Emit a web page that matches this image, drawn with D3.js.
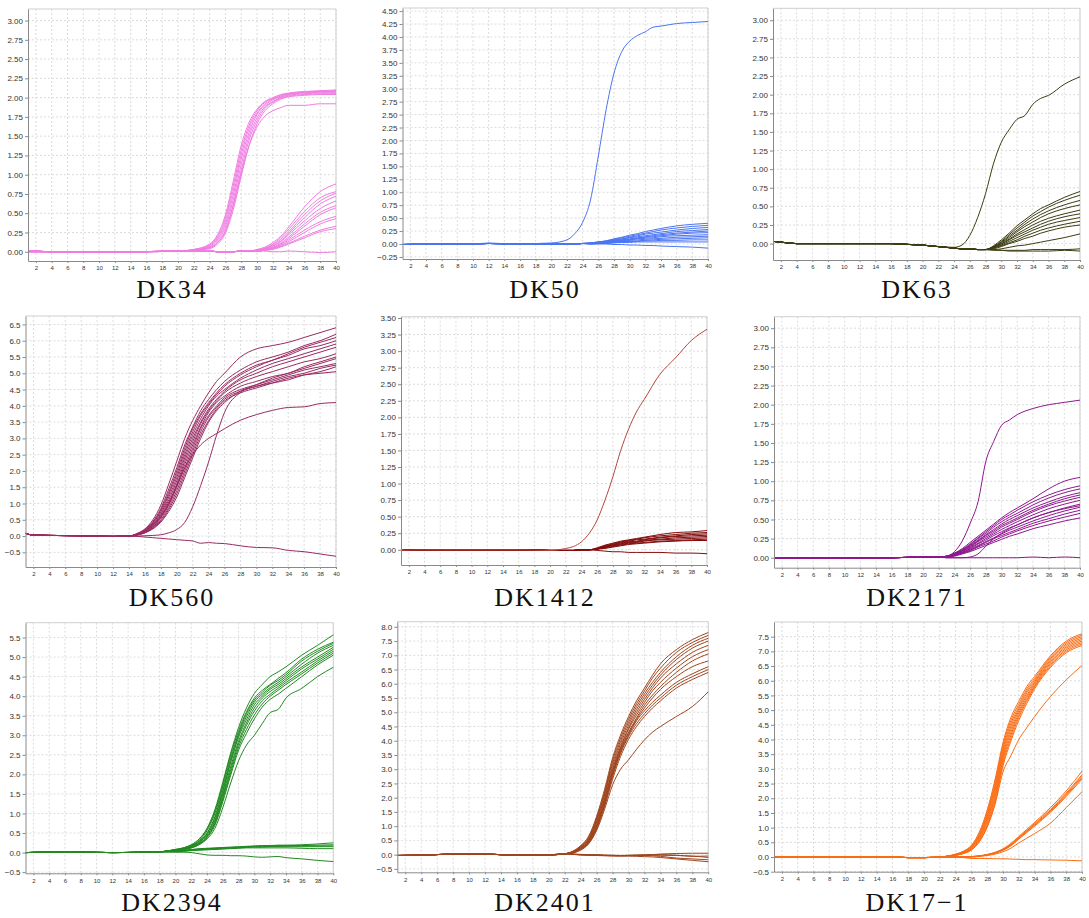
<!DOCTYPE html>
<html>
<head>
<meta charset="utf-8">
<script src="https://cdn.jsdelivr.net/npm/d3@7"></script>
<style>
  body { margin: 0; background: #fff; }
  .tick text { fill: #333; font-family: "Liberation Sans", Arial, sans-serif; }
  .domain { stroke: #8a8a8a; }
  .tick line { stroke: #8a8a8a; }
</style>
</head>
<body>
<script>
// x axis ticks shared by all panels
const cycleTicks = [2,4,6,8,10,12,14,16,18,20,22,24,26,28,30,32,34,36,38,40];

// ---- DK34 ----
const dk34Cycles = [1,5,10,15,20,22,24,25,26,27,28,29,30,31,32,33,34,36,38,40];
const dk34Ticks = [0,0.25,0.5,0.75,1,1.25,1.5,1.75,2,2.25,2.5,2.75,3];
const dk34Base = [0.01,0,0,0,0.01,0.01,0.01,0,0,0,0.01];
const dk34Curves = [
  [0.01,0,0,0,0.01,0.03,0.10,0.22,0.48,0.92,1.38,1.68,1.85,1.95,2.0,2.04,2.06,2.08,2.09,2.10],
  [0.01,0,0,0,0.01,0.03,0.09,0.20,0.44,0.86,1.32,1.64,1.83,1.94,1.99,2.03,2.05,2.07,2.08,2.09],
  [0,0,0,0,0.01,0.02,0.08,0.18,0.40,0.80,1.26,1.60,1.80,1.92,1.98,2.02,2.05,2.07,2.08,2.08],
  [0,0,0,0,0.01,0.02,0.07,0.16,0.36,0.74,1.20,1.55,1.78,1.90,1.97,2.01,2.04,2.06,2.07,2.07],
  [0,0,0,0,0.01,0.02,0.06,0.14,0.32,0.68,1.13,1.50,1.74,1.88,1.95,2.00,2.03,2.05,2.06,2.06],
  [0,0,0,0,0.01,0.02,0.05,0.12,0.28,0.62,1.06,1.45,1.70,1.86,1.94,1.99,2.02,2.04,2.05,2.05],
  [0,0,0,0,0.01,0.02,0.05,0.12,0.27,0.60,1.02,1.38,1.62,1.76,1.83,1.87,1.90,1.90,1.92,1.92],
  [0,0,0,0,0.01,0.02,0.04,0.10,0.24,0.55,0.98,1.38,1.66,1.83,1.92,1.98,2.01,2.03,2.04,2.04],
  [...dk34Base, 0.01,0.03,0.06,0.12,0.20,0.32,0.58,0.78,0.88],
  [...dk34Base, 0.01,0.02,0.05,0.10,0.18,0.29,0.52,0.70,0.78],
  [...dk34Base, 0.01,0.02,0.04,0.09,0.16,0.26,0.48,0.66,0.76],
  [...dk34Base, 0.01,0.02,0.04,0.08,0.14,0.24,0.44,0.62,0.72],
  [...dk34Base, 0.01,0.02,0.03,0.07,0.13,0.22,0.40,0.56,0.66],
  [...dk34Base, 0.01,0.01,0.03,0.06,0.11,0.19,0.36,0.51,0.60],
  [...dk34Base, 0.01,0.01,0.03,0.05,0.10,0.17,0.33,0.48,0.57],
  [...dk34Base, 0.01,0.01,0.02,0.05,0.09,0.15,0.28,0.39,0.46],
  [...dk34Base, 0.01,0.01,0.02,0.04,0.08,0.13,0.25,0.36,0.43],
  [...dk34Base, 0.01,0.01,0.02,0.04,0.07,0.11,0.20,0.28,0.33],
  [...dk34Base, 0.01,0.01,0.02,0.03,0.06,0.10,0.18,0.26,0.30],
  [...dk34Base, 0.01,0.01,0.01,0,0,0.01,0,-0.01,0]
];

// ---- DK50 ----
const dk50Cycles = [1,5,10,12,15,20,22,23,24,25,26,27,28,29,30,31,32,33,34,36,38,40];
const dk50Ticks = [-0.25,0,0.25,0.5,0.75,1,1.25,1.5,1.75,2,2.25,2.5,2.75,3,3.25,3.5,3.75,4,4.25,4.5];
const dk50Base = [-0.01,0,0,0.01,0,0,0,0,0.01];
const dk50Curves = [
  [-0.01,0,0,0.02,0,0.02,0.08,0.2,0.42,0.85,1.7,2.6,3.3,3.72,3.92,4.03,4.1,4.19,4.21,4.26,4.28,4.30],
  [...dk50Base, 0.02,0.04,0.06,0.10,0.13,0.17,0.20,0.24,0.27,0.30,0.35,0.38,0.40],
  [...dk50Base, 0.02,0.04,0.06,0.09,0.12,0.15,0.18,0.21,0.24,0.27,0.31,0.34,0.36],
  [...dk50Base, 0.02,0.03,0.05,0.08,0.10,0.13,0.16,0.19,0.21,0.23,0.27,0.30,0.32],
  [...dk50Base, 0.01,0.03,0.05,0.07,0.09,0.12,0.14,0.16,0.18,0.20,0.24,0.26,0.28],
  [...dk50Base, 0.01,0.02,0.04,0.06,0.08,0.10,0.12,0.14,0.16,0.18,0.21,0.23,0.25],
  [...dk50Base, 0.01,0.02,0.04,0.05,0.07,0.09,0.11,0.13,0.14,0.16,0.19,0.21,0.22],
  [...dk50Base, 0.01,0.02,0.03,0.05,0.06,0.08,0.10,0.11,0.12,0.14,0.16,0.17,0.18],
  [...dk50Base, 0.01,0.02,0.03,0.04,0.05,0.07,0.08,0.09,0.10,0.11,0.13,0.14,0.15],
  [...dk50Base, 0.01,0.01,0.02,0.03,0.04,0.05,0.06,0.07,0.08,0.09,0.10,0.11,0.12],
  [...dk50Base, 0,0.01,0.02,0.03,0.04,0.05,0.05,0.06,0.06,0.07,0.07,0.08,0.08],
  [...dk50Base, 0,0.01,0.01,0.02,0.03,0.03,0.04,0.04,0.04,0.04,0.04,0.04,0.04],
  [...dk50Base, 0,0,0,-0.01,-0.01,-0.02,-0.02,-0.03,-0.03,-0.04,-0.05,-0.06,-0.08]
];

// ---- DK63 ----
const dk63Cycles = [1,2,4,8,12,16,18,20,22,24,25,26,27,28,29,30,31,32,33,34,35,36,38,40];
const dk63Ticks = [0,0.25,0.5,0.75,1,1.25,1.5,1.75,2,2.25,2.5,2.75,3];
const dk63Base = [0.03,0.02,0,0,0,0,-0.01,-0.02,-0.04,-0.06,-0.07,-0.07,-0.08,-0.08];
const dk63Curves = [
  [0.03,0.02,0,0,0,0,-0.01,-0.02,-0.04,-0.05,-0.02,0.11,0.35,0.67,1.07,1.36,1.53,1.67,1.72,1.87,1.95,1.99,2.14,2.24],
  [...dk63Base, -0.03,0.05,0.14,0.24,0.32,0.40,0.47,0.52,0.62,0.70],
  [...dk63Base, -0.04,0.03,0.12,0.21,0.29,0.37,0.43,0.49,0.58,0.65],
  [...dk63Base, -0.04,0.02,0.10,0.18,0.26,0.33,0.39,0.44,0.52,0.58],
  [...dk63Base, -0.05,0.01,0.08,0.16,0.23,0.29,0.35,0.40,0.47,0.52],
  [...dk63Base, -0.05,0,0.06,0.13,0.19,0.25,0.30,0.34,0.40,0.45],
  [...dk63Base, -0.05,-0.01,0.05,0.11,0.16,0.21,0.26,0.30,0.36,0.40],
  [...dk63Base, -0.06,-0.02,0.03,0.08,0.13,0.18,0.22,0.26,0.31,0.35],
  [...dk63Base, -0.06,-0.03,0.01,0.05,0.10,0.14,0.18,0.21,0.26,0.30],
  [...dk63Base, -0.07,-0.04,0,0.03,0.07,0.10,0.14,0.17,0.22,0.25],
  [...dk63Base, -0.08,-0.07,-0.05,-0.03,-0.02,0,0.02,0.04,0.08,0.13],
  [...dk63Base, -0.08,-0.09,-0.09,-0.09,-0.09,-0.08,-0.08,-0.08,-0.08,-0.07],
  [...dk63Base, -0.09,-0.09,-0.10,-0.10,-0.10,-0.10,-0.10,-0.10,-0.09,-0.10]
];

// ---- DK560 ----
const dk560Cycles = [1,2,4,8,12,14,15,16,17,18,19,20,21,22,23,24,25,26,28,30,32,34,36,38,40];
const dk560Ticks = [-0.5,0,0.5,1,1.5,2,2.5,3,3.5,4,4.5,5,5.5,6,6.5];
const dk560Base = [0.08,0.03,0.02,0.01,-0.01,0];
const dk560Curves = [
  [...dk560Base, 0.08,0.22,0.50,0.95,1.60,2.30,3.00,3.55,4.00,4.40,4.75,5.00,5.50,5.75,5.85,5.95,6.10,6.25,6.40],
  [...dk560Base, 0.07,0.20,0.45,0.85,1.45,2.10,2.80,3.35,3.85,4.20,4.50,4.75,5.10,5.35,5.50,5.65,5.85,6.00,6.20],
  [...dk560Base, 0.06,0.18,0.42,0.80,1.35,2.00,2.70,3.30,3.75,4.10,4.40,4.65,5.00,5.25,5.40,5.60,5.80,5.95,6.10],
  [...dk560Base, 0.06,0.17,0.40,0.75,1.28,1.90,2.60,3.20,3.70,4.05,4.35,4.60,4.95,5.20,5.40,5.55,5.75,5.85,6.00],
  [...dk560Base, 0.05,0.16,0.37,0.70,1.20,1.80,2.50,3.10,3.60,4.00,4.30,4.50,4.85,5.10,5.30,5.45,5.60,5.75,5.90],
  [...dk560Base, 0.05,0.15,0.35,0.66,1.12,1.70,2.40,3.00,3.50,3.90,4.20,4.45,4.80,5.00,5.20,5.35,5.50,5.65,5.80],
  [...dk560Base, 0.05,0.14,0.33,0.62,1.05,1.60,2.30,2.90,3.45,3.85,4.15,4.40,4.70,4.90,5.05,5.20,5.35,5.45,5.60],
  [...dk560Base, 0.04,0.13,0.30,0.58,1.00,1.55,2.20,2.80,3.35,3.80,4.10,4.30,4.60,4.75,4.90,5.00,5.20,5.35,5.50],
  [...dk560Base, 0.04,0.12,0.28,0.55,0.95,1.50,2.10,2.70,3.30,3.70,4.00,4.25,4.50,4.65,4.80,4.95,5.10,5.20,5.30],
  [...dk560Base, 0.04,0.11,0.26,0.50,0.88,1.40,2.00,2.60,3.20,3.65,3.95,4.20,4.45,4.60,4.75,4.90,5.00,5.15,5.25],
  [...dk560Base, 0.03,0.10,0.24,0.46,0.82,1.30,1.90,2.50,3.10,3.55,3.90,4.15,4.40,4.55,4.70,4.85,4.95,5.00,5.05],
  [...dk560Base, 0.03,0.10,0.22,0.43,0.76,1.20,1.80,2.40,3.00,3.50,3.85,4.10,4.45,4.65,4.85,5.00,5.15,5.30,5.45],
  [...dk560Base, 0.05,0.15,0.35,0.60,1.00,1.55,2.10,2.50,2.80,3.00,3.15,3.30,3.56,3.73,3.86,3.95,3.97,4.07,4.10],
  [...dk560Base, 0,0.01,0.02,0.04,0.10,0.20,0.42,0.90,1.55,2.28,3.10,3.80,4.41,4.60,4.70,4.80,4.95,5.05,5.20],
  [...dk560Base, -0.01,-0.03,-0.05,-0.07,-0.09,-0.11,-0.13,-0.15,-0.22,-0.20,-0.22,-0.23,-0.30,-0.35,-0.36,-0.44,-0.48,-0.55,-0.62]
];

// ---- DK1412 ----
const dk1412Cycles = [1,4,8,12,16,20,22,23,24,25,26,27,28,29,30,31,32,34,36,38,40];
const dk1412Ticks = [0,0.25,0.5,0.75,1,1.25,1.5,1.75,2,2.25,2.5,2.75,3,3.25,3.5];
const dk1412Base = [-0.01,0,0,0,0,-0.01,-0.01,-0.01,0,0];
const dk1412Curves = [
  [...dk1412Base, 0.03,0.07,0.10,0.13,0.15,0.17,0.19,0.23,0.26,0.27,0.29],
  [...dk1412Base, 0.02,0.06,0.09,0.12,0.14,0.16,0.18,0.21,0.23,0.25,0.26],
  [...dk1412Base, 0.02,0.05,0.08,0.11,0.13,0.15,0.16,0.19,0.21,0.23,0.24],
  [...dk1412Base, 0.02,0.05,0.07,0.10,0.12,0.13,0.15,0.18,0.20,0.21,0.22],
  [...dk1412Base, 0.01,0.04,0.07,0.09,0.11,0.12,0.14,0.16,0.18,0.19,0.20],
  [...dk1412Base, 0.01,0.04,0.06,0.08,0.10,0.11,0.13,0.15,0.16,0.17,0.18],
  [...dk1412Base, 0.01,0.03,0.05,0.07,0.09,0.10,0.11,0.13,0.14,0.15,0.16],
  [...dk1412Base, 0.01,0.02,0.04,0.06,0.08,0.09,0.10,0.12,0.13,0.14,0.14],
  [...dk1412Base, -0.01,-0.02,-0.03,-0.03,-0.04,-0.04,-0.04,-0.04,-0.05,-0.05,-0.06],
  [-0.01,0,0,0,0,-0.01,0.02,0.05,0.12,0.25,0.45,0.75,1.10,1.50,1.82,2.08,2.27,2.65,2.90,3.16,3.33]
];

// ---- DK2171 ----
const dk2171Cycles = [1,4,8,12,16,20,22,23,24,25,26,27,28,29,30,31,32,34,36,38,40];
const dk2171Ticks = [0,0.25,0.5,0.75,1,1.25,1.5,1.75,2,2.25,2.5,2.75,3];
const dk2171Base = [0,0,0,0,0,0.01,0.01];
const dk2171Curves = [
  [...dk2171Base, 0.02,0.08,0.22,0.45,0.73,1.26,1.52,1.73,1.80,1.87,1.95,2.00,2.03,2.06],
  [...dk2171Base, 0.02,0.06,0.12,0.20,0.28,0.36,0.44,0.52,0.59,0.65,0.77,0.90,1.00,1.05],
  [...dk2171Base, 0.02,0.06,0.11,0.18,0.26,0.34,0.42,0.50,0.56,0.62,0.73,0.82,0.89,0.94],
  [...dk2171Base, 0.02,0.05,0.10,0.17,0.25,0.32,0.40,0.47,0.53,0.58,0.69,0.78,0.85,0.90],
  [...dk2171Base, 0.02,0.05,0.10,0.16,0.23,0.30,0.37,0.44,0.50,0.55,0.65,0.73,0.80,0.85],
  [...dk2171Base, 0.02,0.05,0.09,0.15,0.22,0.29,0.35,0.42,0.47,0.52,0.62,0.70,0.77,0.82],
  [...dk2171Base, 0.01,0.04,0.09,0.14,0.21,0.27,0.33,0.40,0.45,0.50,0.60,0.68,0.74,0.79],
  [...dk2171Base, 0.01,0.04,0.08,0.13,0.19,0.25,0.31,0.37,0.42,0.47,0.56,0.64,0.70,0.75],
  [...dk2171Base, 0.01,0.04,0.07,0.12,0.18,0.23,0.29,0.34,0.39,0.43,0.52,0.59,0.65,0.70],
  [...dk2171Base, 0.01,0.03,0.07,0.11,0.16,0.21,0.26,0.31,0.36,0.40,0.48,0.55,0.61,0.66],
  [...dk2171Base, 0.01,0.03,0.06,0.10,0.15,0.20,0.25,0.29,0.33,0.37,0.45,0.51,0.57,0.62],
  [...dk2171Base, 0.01,0.03,0.06,0.09,0.14,0.18,0.22,0.27,0.31,0.35,0.42,0.48,0.53,0.58],
  [...dk2171Base, 0.01,0.02,0.05,0.08,0.12,0.16,0.20,0.24,0.28,0.31,0.38,0.43,0.48,0.52],
  [...dk2171Base, 0,0,0,0.01,0.05,0.15,0.25,0.32,0.38,0.43,0.52,0.59,0.64,0.68],
  [...dk2171Base, 0,0,0,0,0,0,0,0,0,0,0.01,0,0.01,0]
];

// ---- DK2394 ----
const dk2394Cycles = [1,4,8,12,16,18,20,21,22,23,24,25,26,27,28,29,30,31,32,33,34,36,38,40];
const dk2394Ticks = [-0.5,0,0.5,1,1.5,2,2.5,3,3.5,4,4.5,5,5.5];
const dk2394Base = [0,0.01,0.01,0,0.01,0.02];
const dk2394Curves = [
  [...dk2394Base, 0.08,0.12,0.20,0.35,0.62,1.10,1.80,2.55,3.20,3.70,4.07,4.30,4.50,4.62,4.75,5.05,5.30,5.57],
  [...dk2394Base, 0.08,0.12,0.19,0.33,0.60,1.05,1.75,2.50,3.12,3.60,3.95,4.15,4.30,4.45,4.60,4.95,5.20,5.38],
  [...dk2394Base, 0.07,0.11,0.18,0.30,0.56,1.00,1.68,2.42,3.05,3.55,3.90,4.10,4.28,4.40,4.55,4.90,5.15,5.35],
  [...dk2394Base, 0.07,0.11,0.17,0.28,0.50,0.92,1.60,2.35,3.00,3.48,3.85,4.05,4.22,4.35,4.50,4.82,5.10,5.30],
  [...dk2394Base, 0.07,0.10,0.16,0.26,0.48,0.88,1.55,2.30,2.95,3.40,3.78,4.00,4.18,4.30,4.45,4.75,5.00,5.25],
  [...dk2394Base, 0.06,0.10,0.15,0.25,0.45,0.82,1.48,2.20,2.85,3.32,3.70,3.95,4.12,4.25,4.40,4.70,4.95,5.20],
  [...dk2394Base, 0.06,0.09,0.14,0.23,0.42,0.78,1.42,2.12,2.78,3.25,3.62,3.88,4.05,4.20,4.35,4.62,4.90,5.15],
  [...dk2394Base, 0.06,0.09,0.13,0.22,0.40,0.74,1.36,2.05,2.70,3.15,3.52,3.80,4.00,4.15,4.30,4.57,4.85,5.10],
  [...dk2394Base, 0.05,0.08,0.12,0.21,0.38,0.70,1.30,1.98,2.62,3.05,3.42,3.72,3.92,4.05,4.20,4.50,4.80,5.05],
  [...dk2394Base, 0.05,0.08,0.12,0.20,0.35,0.62,1.15,1.78,2.35,2.75,3.00,3.30,3.58,3.66,3.95,4.20,4.50,4.74],
  [...dk2394Base, 0.04,0.06,0.08,0.10,0.11,0.12,0.13,0.14,0.15,0.16,0.17,0.18,0.18,0.19,0.19,0.20,0.22,0.25],
  [...dk2394Base, 0.04,0.05,0.07,0.09,0.10,0.11,0.12,0.13,0.14,0.15,0.16,0.17,0.17,0.18,0.18,0.18,0.19,0.20],
  [...dk2394Base, 0.03,0.05,0.07,0.08,0.09,0.10,0.11,0.12,0.13,0.14,0.15,0.15,0.16,0.16,0.17,0.17,0.17,0.17],
  [...dk2394Base, 0.03,0.04,0.06,0.07,0.08,0.09,0.10,0.11,0.12,0.13,0.14,0.14,0.15,0.15,0.15,0.15,0.15,0.15],
  [...dk2394Base, 0.02,0.03,0.05,0.06,0.07,0.08,0.09,0.10,0.11,0.12,0.12,0.12,0.12,0.12,0.12,0.11,0.10,0.10],
  [...dk2394Base, 0.01,0.01,0,-0.03,-0.06,-0.07,-0.07,-0.08,-0.08,-0.09,-0.11,-0.12,-0.11,-0.10,-0.13,-0.16,-0.20,-0.23]
];

// ---- DK2401 ----
const dk2401Cycles = [1,4,8,12,16,20,22,23,24,25,26,27,28,29,30,31,32,33,34,36,38,40];
const dk2401Ticks = [-0.5,0,0.5,1,1.5,2,2.5,3,3.5,4,4.5,5,5.5,6,6.5,7,7.5,8];
const dk2401Base = [-0.03,-0.02,0.02,0.02,-0.02,-0.01,0.03];
const dk2401Curves = [
  [...dk2401Base, 0.12,0.32,0.65,1.35,2.30,3.40,4.20,4.85,5.40,5.85,6.30,6.70,7.20,7.55,7.80],
  [...dk2401Base, 0.11,0.30,0.60,1.30,2.20,3.30,4.10,4.75,5.30,5.75,6.20,6.55,7.10,7.45,7.70],
  [...dk2401Base, 0.10,0.28,0.58,1.25,2.15,3.20,4.00,4.65,5.20,5.65,6.05,6.40,6.95,7.35,7.60],
  [...dk2401Base, 0.10,0.27,0.55,1.20,2.10,3.10,3.90,4.55,5.10,5.55,5.95,6.30,6.85,7.25,7.50],
  [...dk2401Base, 0.09,0.25,0.52,1.15,2.00,3.00,3.80,4.45,5.00,5.45,5.85,6.20,6.70,7.10,7.35],
  [...dk2401Base, 0.09,0.24,0.50,1.10,1.95,2.95,3.75,4.40,4.90,5.35,5.75,6.05,6.55,6.95,7.20],
  [...dk2401Base, 0.08,0.22,0.48,1.05,1.90,2.90,3.70,4.30,4.80,5.25,5.60,5.90,6.40,6.80,7.05],
  [...dk2401Base, 0.08,0.21,0.46,1.00,1.85,2.85,3.65,4.25,4.75,5.15,5.50,5.80,6.25,6.60,6.80],
  [...dk2401Base, 0.07,0.20,0.44,0.98,1.80,2.80,3.60,4.20,4.70,5.05,5.35,5.60,6.05,6.35,6.60],
  [...dk2401Base, 0.07,0.19,0.42,0.95,1.75,2.75,3.55,4.15,4.60,4.95,5.25,5.50,5.95,6.25,6.50],
  [...dk2401Base, 0.06,0.18,0.40,0.90,1.70,2.65,3.45,4.05,4.50,4.85,5.15,5.40,5.85,6.15,6.40],
  [...dk2401Base, 0.06,0.16,0.38,0.85,1.60,2.45,3.00,3.33,3.70,4.03,4.30,4.50,4.85,5.20,5.72],
  [...dk2401Base, 0.02,0.01,0,0,-0.01,-0.02,-0.03,-0.02,-0.02,-0.01,0,0.02,0.04,0.05,0.05],
  [...dk2401Base, 0.02,0,-0.01,-0.02,-0.03,-0.03,-0.03,-0.04,-0.03,-0.02,-0.02,-0.02,-0.03,-0.05,-0.10],
  [...dk2401Base, 0.01,-0.01,-0.02,-0.02,-0.03,-0.04,-0.04,-0.03,-0.02,-0.03,-0.04,-0.06,-0.12,-0.15,-0.18],
  [...dk2401Base, 0.01,-0.01,-0.02,-0.03,-0.04,-0.04,-0.05,-0.05,-0.06,-0.07,-0.08,-0.10,-0.15,-0.20,-0.25],
  [...dk2401Base, 0.01,0,-0.01,-0.02,-0.03,-0.04,-0.04,-0.03,-0.02,-0.01,0,0,-0.02,-0.06,-0.05]
];

// ---- DK17-1 ----
const dk171Cycles = [1,4,8,12,16,18,20,22,24,25,26,27,28,29,30,31,32,33,34,36,38,40];
const dk171Ticks = [-0.5,0,0.5,1,1.5,2,2.5,3,3.5,4,4.5,5,5.5,6,6.5,7,7.5];
const dk171Base = [0,0,0,0,0,-0.02,-0.02,0];
const dk171Curves = [
  [...dk171Base, 0.10,0.20,0.40,0.85,1.60,2.65,3.90,4.75,5.30,5.80,6.15,6.85,7.35,7.60],
  [...dk171Base, 0.09,0.19,0.38,0.80,1.52,2.55,3.80,4.65,5.20,5.72,6.08,6.80,7.30,7.55],
  [...dk171Base, 0.09,0.18,0.36,0.76,1.45,2.45,3.70,4.55,5.12,5.65,6.02,6.75,7.25,7.50],
  [...dk171Base, 0.08,0.17,0.34,0.72,1.38,2.35,3.60,4.45,5.05,5.58,5.97,6.70,7.20,7.45],
  [...dk171Base, 0.08,0.16,0.32,0.68,1.30,2.25,3.50,4.35,4.98,5.50,5.92,6.65,7.15,7.40],
  [...dk171Base, 0.07,0.15,0.30,0.64,1.24,2.15,3.40,4.25,4.90,5.43,5.87,6.60,7.10,7.35],
  [...dk171Base, 0.07,0.14,0.28,0.60,1.18,2.05,3.30,4.15,4.82,5.36,5.82,6.55,7.05,7.30],
  [...dk171Base, 0.06,0.13,0.26,0.56,1.10,1.95,3.20,4.05,4.75,5.30,5.78,6.50,7.00,7.25],
  [...dk171Base, 0.06,0.12,0.24,0.52,1.04,1.85,3.10,3.95,4.65,5.22,5.72,6.45,6.95,7.20],
  [...dk171Base, 0.06,0.12,0.24,0.52,1.02,1.80,2.90,3.45,4.00,4.40,4.78,5.46,6.03,6.52],
  [...dk171Base, 0,0,0.02,0.04,0.09,0.16,0.28,0.46,0.70,0.94,1.18,1.68,2.25,2.92],
  [...dk171Base, 0,0,0.01,0.04,0.08,0.15,0.26,0.44,0.67,0.90,1.14,1.62,2.18,2.80],
  [...dk171Base, 0,0,0.01,0.03,0.08,0.14,0.25,0.42,0.65,0.88,1.11,1.58,2.14,2.75],
  [...dk171Base, 0,0,0.01,0.03,0.07,0.13,0.24,0.40,0.63,0.86,1.08,1.55,2.10,2.70],
  [...dk171Base, 0,0,0.01,0.03,0.07,0.13,0.23,0.38,0.61,0.83,1.05,1.52,2.06,2.65],
  [...dk171Base, 0,0,0,0.02,0.05,0.10,0.18,0.30,0.48,0.64,0.80,1.15,1.68,2.22],
  [...dk171Base, 0,-0.02,-0.05,-0.05,-0.05,-0.06,-0.06,-0.07,-0.08,-0.09,-0.09,-0.10,-0.11,-0.13]
];

// layout of each panel (pixel box and axis range)
const panels = [
  { name: "DK34", cycles: dk34Cycles, curves: dk34Curves, ticks: dk34Ticks, fmt: ".2f",
    color: "#f07ce2", box: [28, 336, 9, 261], yDom: [-0.12, 3.15], label: [172, 298] },
  { name: "DK50", cycles: dk50Cycles, curves: dk50Curves, ticks: dk50Ticks, fmt: ".2f",
    color: "#4a74f2", box: [402.5, 708, 8, 259], yDom: [-0.29, 4.56], label: [545, 298] },
  { name: "DK63", cycles: dk63Cycles, curves: dk63Curves, ticks: dk63Ticks, fmt: ".2f",
    color: "#3c3c12", box: [773, 1080, 8.3, 260], yDom: [-0.22, 3.16], label: [917, 298] },
  { name: "DK560", cycles: dk560Cycles, curves: dk560Curves, ticks: dk560Ticks, fmt: ".1f",
    color: "#9a2a62", box: [25.5, 336, 316, 567], yDom: [-0.95, 6.76], label: [172, 606] },
  { name: "DK1412", cycles: dk1412Cycles, curves: dk1412Curves, ticks: dk1412Ticks, fmt: ".2f",
    color: "#820a0a", first: "#b8453e", box: [401, 707, 316.7, 565], yDom: [-0.23, 3.52], label: [545, 606] },
  { name: "DK2171", cycles: dk2171Cycles, curves: dk2171Curves, ticks: dk2171Ticks, fmt: ".2f",
    color: "#8e168e", box: [774, 1080, 316.7, 567.7], yDom: [-0.13, 3.15], label: [917, 606] },
  { name: "DK2394", cycles: dk2394Cycles, curves: dk2394Curves, ticks: dk2394Ticks, fmt: ".1f",
    color: "#208a20", box: [25.5, 333.3, 622.7, 873.3], yDom: [-0.53, 5.88], label: [172, 911] },
  { name: "DK2401", cycles: dk2401Cycles, curves: dk2401Curves, ticks: dk2401Ticks, fmt: ".1f",
    color: "#a0441c", box: [397.3, 708.3, 621.7, 872.3], yDom: [-0.62, 8.18], label: [545, 911] },
  { name: "DK17\u22121", cycles: dk171Cycles, curves: dk171Curves, ticks: dk171Ticks, fmt: ".1f",
    color: "#fb6c12", box: [774, 1082, 622, 871.7], yDom: [-0.5, 8.0], label: [917, 911] }
];

const svg = d3.select("body").append("svg").attr("width", 1089).attr("height", 918);
svg.append("rect").attr("width", 1089).attr("height", 918).attr("fill", "#fff");

panels.forEach((p) => {
  const [x0, x1, y0, y1] = p.box;
  const x = d3.scaleLinear().domain([1, 40]).range([x0, x1]);
  const y = d3.scaleLinear().domain(p.yDom).range([y1, y0]);
  const g = svg.append("g");

  // grid
  g.append("g").selectAll("line").data(cycleTicks).join("line")
    .attr("x1", (d) => x(d)).attr("x2", (d) => x(d))
    .attr("y1", y0).attr("y2", y1)
    .attr("stroke", "#dcdcdc").attr("stroke-dasharray", "2,2");
  g.append("g").selectAll("line").data(p.ticks).join("line")
    .attr("x1", x0).attr("x2", x1)
    .attr("y1", (d) => y(d)).attr("y2", (d) => y(d))
    .attr("stroke", "#dcdcdc").attr("stroke-dasharray", "2,2");

  // frame
  g.append("path")
    .attr("d", `M${x0},${y0}H${x1}V${y1}`)
    .attr("fill", "none").attr("stroke", "#cfcfcf");

  // curves
  const line = d3.line()
    .x((d, i) => x(p.cycles[i]))
    .y((d) => y(d))
    .curve(d3.curveMonotoneX);
  g.append("g").selectAll("path").data(p.curves).join("path")
    .attr("d", line)
    .attr("fill", "none")
    .attr("stroke", (d, i) => (p.first && i === p.curves.length - 1 ? p.first : p.color))
    .attr("stroke-width", 1);

  // axes
  const xAxis = g.append("g")
    .attr("transform", `translate(0,${y1})`)
    .call(d3.axisBottom(x).tickValues(cycleTicks).tickSize(2).tickSizeOuter(0).tickPadding(3));
  xAxis.selectAll("text").style("font-size", "6px");

  const yAxis = g.append("g")
    .attr("transform", `translate(${x0},0)`)
    .call(d3.axisLeft(y).tickValues(p.ticks).tickFormat(d3.format(p.fmt)).tickSize(3).tickSizeOuter(0).tickPadding(2));
  yAxis.selectAll("text").style("font-size", "8px");

  // title under the chart
  svg.append("text")
    .attr("x", p.label[0]).attr("y", p.label[1])
    .attr("text-anchor", "middle")
    .style("font-family", '"Liberation Serif", "DejaVu Serif", serif')
    .style("font-size", "26px")
    .style("letter-spacing", "2px")
    .attr("fill", "#111")
    .text(p.name);
});
</script>
</body>
</html>
